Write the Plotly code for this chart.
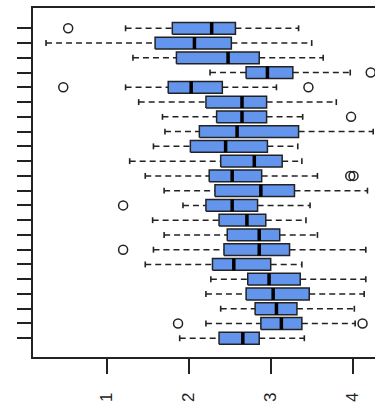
import plotly.graph_objects as go

# Box statistics, row 1 (bottom) to row 22 (top)
positions = list(range(1, 23))
whisk_lo = [1.89, 2.21, 2.39, 2.21, 2.27, 1.47, 1.57, 1.70, 1.56, 1.93, 1.70,
            1.47, 1.28, 1.57, 1.71, 1.68, 1.39, 1.23, 2.26, 1.32, 0.26, 1.23]
q1 = [2.37, 2.88, 2.81, 2.70, 2.72, 2.29, 2.43, 2.47, 2.37, 2.21, 2.32,
      2.25, 2.39, 2.02, 2.13, 2.34, 2.21, 1.75, 2.70, 1.85, 1.59, 1.80]
median = [2.66, 3.13, 3.07, 3.03, 2.98, 2.55, 2.86, 2.86, 2.71, 2.53, 2.88,
          2.53, 2.80, 2.45, 2.59, 2.65, 2.65, 2.03, 2.96, 2.48, 2.07, 2.28]
q3 = [2.86, 3.38, 3.32, 3.47, 3.36, 3.00, 3.23, 3.11, 2.94, 2.84, 3.29,
      2.89, 3.14, 2.96, 3.34, 2.95, 2.95, 2.41, 3.27, 2.86, 2.52, 2.57]
whisk_hi = [3.41, 4.03, 4.02, 4.14, 4.16, 3.38, 4.16, 3.57, 3.43, 3.48, 4.18,
            3.57, 3.38, 3.33, 4.25, 3.39, 3.80, 3.07, 3.97, 3.64, 3.50, 3.34]
outlier_pos = [2, 2, 7, 10, 12, 12, 16, 18, 18, 19, 22]
outlier_val = [1.87, 4.12, 1.20, 1.20, 3.97, 4.01, 3.98, 0.47, 3.46, 4.22, 0.53]
x_ticks = [1, 2, 3, 4]
x_ticklabels = ["1", "2", "3", "4"]

HW = 0.4   # box half-height
CAP = 0.2  # staple half-length

wx, wy, cx, cy, bx, by, mx, my = [], [], [], [], [], [], [], []
for p, lo, a, m, b, hi in zip(positions, whisk_lo, q1, median, q3, whisk_hi):
    wx += [lo, a, None, b, hi, None]
    wy += [p, p, None, p, p, None]
    cx += [lo, lo, None, hi, hi, None]
    cy += [p - CAP, p + CAP, None, p - CAP, p + CAP, None]
    bx += [a, b, b, a, a, None]
    by += [p - HW, p - HW, p + HW, p + HW, p - HW, None]
    mx += [m, m, None]
    my += [p - HW, p + HW, None]

fig = go.Figure()
fig.add_trace(go.Scatter(x=wx, y=wy, mode="lines",
                         line=dict(color="#222222", width=1.5, dash="6px,4px"),
                         hoverinfo="skip", showlegend=False))
fig.add_trace(go.Scatter(x=cx, y=cy, mode="lines",
                         line=dict(color="#222222", width=1.6),
                         hoverinfo="skip", showlegend=False))
fig.add_trace(go.Scatter(x=bx, y=by, mode="lines", fill="toself",
                         fillcolor="#6495ED",
                         line=dict(color="#222222", width=1.5),
                         hoverinfo="skip", showlegend=False))
fig.add_trace(go.Scatter(x=mx, y=my, mode="lines",
                         line=dict(color="black", width=3.5),
                         hoverinfo="skip", showlegend=False))
fig.add_trace(go.Scatter(x=outlier_val, y=outlier_pos, mode="markers",
                         marker=dict(symbol="circle-open", size=9,
                                     color="#222222", line=dict(width=1.5)),
                         hoverinfo="skip", showlegend=False))

fig.update_layout(
    width=375, height=414,
    margin=dict(l=33, r=0, t=8, b=57),
    paper_bgcolor="white", plot_bgcolor="white",
    font=dict(family="Liberation Sans, Arial, sans-serif", color="#222222"),
    xaxis=dict(range=[0.101, 4.272], tickvals=x_ticks, ticktext=x_ticklabels,
               ticks="outside", ticklen=15, tickwidth=1.5, tickcolor="#222222",
               showline=True, linewidth=1.5, linecolor="#222222", mirror=True,
               tickangle=-90, tickfont=dict(size=17), ticklabelstandoff=12,
               showgrid=False, zeroline=False, fixedrange=True),
    yaxis=dict(range=[-0.27, 23.375], tickvals=positions, showticklabels=False,
               ticks="outside", ticklen=14, tickwidth=1.5, tickcolor="#222222",
               showline=True, linewidth=1.5, linecolor="#222222",
               showgrid=False, zeroline=False, fixedrange=True),
)

fig.write_html("out.html")
